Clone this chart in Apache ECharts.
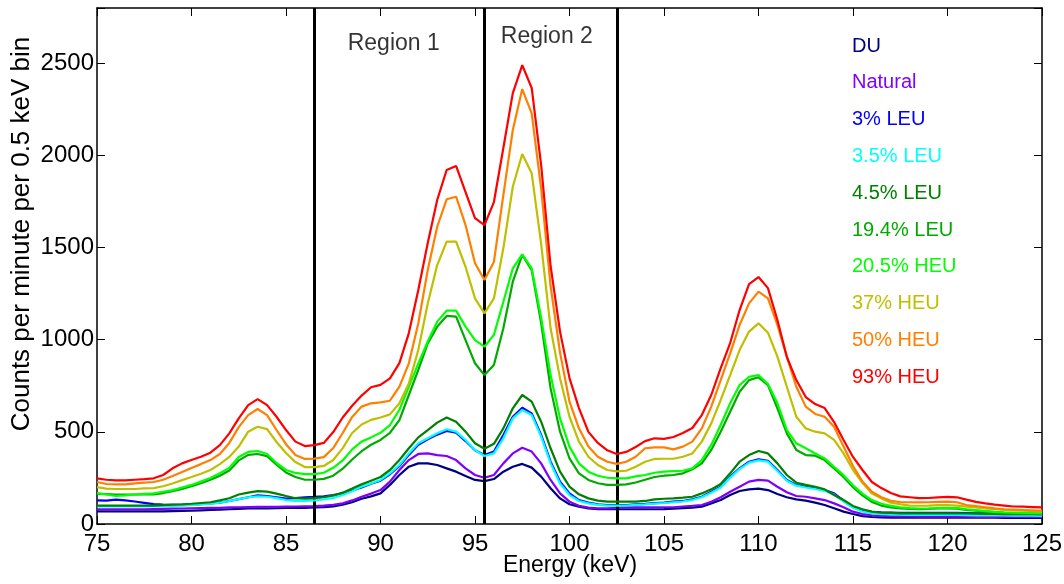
<!DOCTYPE html>
<html><head><meta charset="utf-8">
<script src="https://cdn.jsdelivr.net/npm/echarts@6/dist/echarts.min.js"></script>
<style>html,body{margin:0;padding:0;background:#fff}#c{width:1064px;height:584px}</style>
</head><body><div id="c"></div>
<script>
// Energy bins (keV), 0.5 keV wide
const energy = Array.from({length: 101}, (_, i) => 75 + 0.5 * i);

const seriesNames = ['DU','Natural','3% LEU','3.5% LEU','4.5% LEU','19.4% LEU','20.5% HEU','37% HEU','50% HEU','93% HEU'];
const seriesColors = ['#000080','#8000FF','#0000FF','#00FFFF','#008000','#00AA00','#00FF00','#BFBF00','#FF8000','#FF0000'];

const du = [68,68,68,68,68,68,68,69,70,71,
 72,74,76,78,80,82,84,85,85,86,
 87,88,88,90,92,96,105,118,137,150,
 166,212,266,311,329,329,320,302,284,260,
 239,233,244,284,311,326,306,257,194,139,
 107,94,85,81,80,80,80,80,80,80,
 81,83,86,89,94,112,130,157,179,188,
 192,184,163,145,134,127,116,103,85,67,
 54,43,38,36,35,35,35,35,35,35,
 34,34,34,34,34,34,33,33,33,33,
 33];
const natural = [80,80,80,80,80,80,81,82,83,84,
 85,86,87,88,90,91,92,93,93,93,
 94,95,96,97,100,104,112,128,148,165,
 184,230,293,347,380,383,374,369,347,302,
 266,251,266,329,383,414,393,329,239,166,
 121,99,89,85,85,88,90,91,91,91,
 91,91,95,98,103,121,145,175,202,230,
 239,235,202,172,152,148,139,130,112,91,
 67,54,47,44,42,41,41,40,40,40,
 40,40,40,39,39,39,39,38,38,38,
 38];
const leu3 = [128,127,132,128,122,115,108,105,104,104,
 105,108,112,116,125,135,145,155,152,145,
 138,140,145,147,150,157,167,182,198,218,
 235,270,315,375,430,460,485,505,495,450,
 400,374,393,483,582,631,600,483,338,230,
 166,130,116,107,103,103,103,106,109,113,
 116,121,125,134,148,175,202,257,302,338,
 351,343,293,239,212,202,194,184,166,127,
 91,74,66,63,62,61,61,61,61,61,
 60,60,59,58,58,57,57,56,56,55,
 55];
const leu35 = [95,95,95,95,95,95,95,97,98,100,
 102,106,110,116,125,135,145,150,148,140,
 130,125,125,128,133,142,157,178,203,220,
 239,275,320,383,438,465,492,514,501,456,
 402,369,383,465,573,619,591,474,329,220,
 157,125,112,104,100,100,100,104,107,111,
 114,118,122,130,145,170,198,252,298,333,
 345,338,288,235,208,198,190,180,160,122,
 88,68,58,54,52,51,50,50,50,50,
 50,49,48,47,47,46,46,45,45,45,
 44];
const leu45 = [100,100,100,100,100,100,100,102,105,107,
 110,114,118,128,140,160,170,178,176,165,
 152,140,138,140,145,155,170,192,215,235,
 255,293,347,411,470,510,550,578,555,501,
 438,408,435,519,628,700,664,555,411,284,
 203,161,139,127,121,121,121,121,125,134,
 137,139,143,148,166,188,217,275,338,374,
 396,383,329,266,224,212,202,188,157,130,
 98,80,67,61,60,58,58,58,58,58,
 58,58,57,56,55,55,54,54,53,53,
 52];
const leu194 = [163,162,160,160,160,160,160,168,178,190,
 205,222,240,262,290,345,375,380,368,322,
 280,255,240,240,245,262,300,350,395,430,
 456,495,564,700,836,980,1071,1129,1125,998,
 872,808,863,1062,1315,1460,1378,1090,736,501,
 356,275,239,221,212,212,215,225,240,255,
 262,266,275,297,329,402,501,609,718,781,
 796,754,628,492,402,374,371,347,302,255,
 200,155,120,100,90,84,82,81,82,84,
 85,83,77,72,68,64,61,59,58,57,
 56];
const heu205 = [168,160,152,155,160,163,166,175,184,198,
 212,230,250,275,304,364,391,396,380,331,
 293,277,271,271,278,305,345,405,447,470,
 495,537,620,745,870,990,1098,1158,1158,1071,
 998,962,1026,1206,1387,1463,1387,1120,808,573,
 420,329,284,262,251,248,248,258,266,278,
 284,287,289,302,347,429,537,655,754,799,
 808,760,655,510,438,411,383,356,310,265,
 210,165,130,110,98,90,86,84,84,86,
 88,86,80,75,70,66,63,61,60,59,
 58];
const heu37 = [200,192,190,190,190,193,195,205,220,238,
 255,273,293,325,364,420,501,528,515,445,
 385,336,309,309,315,347,412,494,540,565,
 578,595,655,763,944,1197,1405,1532,1532,1396,
 1224,1143,1224,1496,1830,2008,1903,1520,1062,790,
 582,447,365,320,293,286,289,311,338,353,
 354,354,365,383,447,546,673,808,944,1044,
 1089,1038,908,745,582,519,501,492,456,383,
 293,224,166,139,116,107,100,99,100,102,
 103,100,94,90,85,80,76,74,72,70,
 67];
const heu50 = [228,217,215,215,220,225,228,240,260,282,
 304,325,347,380,440,526,591,624,591,510,
 433,374,353,355,363,412,494,581,637,655,
 660,669,745,872,1089,1378,1613,1762,1776,1622,
 1415,1324,1422,1785,2138,2360,2228,1820,1290,930,
 664,519,420,365,338,326,338,365,411,416,
 416,405,420,447,519,637,781,926,1080,1197,
 1261,1224,1080,908,745,637,597,582,528,420,
 315,230,175,145,126,119,118,117,118,120,
 121,118,103,97,91,85,80,78,76,74,
 72];
const heu93 = [248,240,237,237,240,243,248,266,302,329,
 347,365,387,428,492,573,645,678,645,582,
 510,447,423,428,440,499,578,642,697,742,
 755,790,873,1036,1270,1525,1758,1921,1943,1801,
 1660,1622,1747,2040,2338,2490,2366,1948,1400,1044,
 792,629,500,440,400,380,391,418,450,465,
 462,472,494,521,591,700,846,982,1161,1302,
 1340,1280,1107,906,781,689,651,629,553,456,
 364,293,228,195,168,150,145,140,141,145,
 147,145,132,120,112,105,100,95,94,92,
 90];

const seriesValues = [du, natural, leu3, leu35, leu45, leu194, heu205, heu37, heu50, heu93];

const regionBoundaries = [86.5, 95.5, 102.5];
const regionLabels = ['Region 1', 'Region 2'];
const regionLabelPos = [[90.7, 2605], [98.8, 2642]];

const xTicks = [75, 80, 85, 90, 95, 100, 105, 110, 115, 120, 125];
const yTickStep = 500;
const xTitle = 'Energy (keV)';
const yTitle = 'Counts per minute per 0.5 keV bin';

const FONT = "'Liberation Sans', Arial, Helvetica, sans-serif";

const chart = echarts.init(document.getElementById('c'), null, {renderer: 'canvas'});

const axisLineStyle = {color: '#000', width: 1.5};
const mkX = (pos, showLabel) => ({
  type: 'value', min: xTicks[0], max: xTicks[xTicks.length - 1], interval: 5, position: pos,
  axisLine: {show: true, onZero: false, lineStyle: axisLineStyle},
  axisTick: {show: true, inside: true, length: 8, lineStyle: {color: '#000', width: 1}},
  axisLabel: {show: showLabel, fontSize: 24, color: '#000', margin: 8, fontFamily: FONT},
  splitLine: {show: false}
});
const mkY = (pos, showLabel) => ({
  type: 'value', min: 0, max: 2800, interval: yTickStep, position: pos,
  axisLine: {show: true, onZero: false, lineStyle: axisLineStyle},
  axisTick: {show: true, inside: true, length: 8, lineStyle: {color: '#000', width: 1}},
  axisLabel: {show: showLabel, fontSize: 24, color: '#000', margin: 3, fontFamily: FONT,
    formatter: v => (v % yTickStep === 0 ? String(v) : '')},
  splitLine: {show: false}
});

const lineSeries = seriesNames.map((name, k) => ({
  name: name, type: 'line', xAxisIndex: 0, yAxisIndex: 0,
  showSymbol: false, symbol: 'none', smooth: false,
  lineStyle: {color: seriesColors[k], width: 2.2},
  itemStyle: {color: seriesColors[k]},
  emphasis: {disabled: true},
  z: 2 + k,
  data: energy.map((e, i) => [e, seriesValues[k][i]])
}));

const option = {
  animation: false,
  backgroundColor: '#fff',
  textStyle: {fontFamily: FONT},
  grid: {left: 97, right: 22, top: 8, bottom: 60, show: false, containLabel: false, outerBoundsMode: 'none'},
  xAxis: [mkX('bottom', true), mkX('top', false)],
  yAxis: [mkY('left', true), mkY('right', false)],
  graphic: [{
    type: 'text', x: 22, y: 234, rotation: Math.PI / 2, silent: true,
    style: {text: yTitle, fontSize: 26, fontFamily: FONT, fill: '#000',
      align: 'center', verticalAlign: 'middle'}
  }, {
    type: 'text', x: 570, y: 566, silent: true,
    style: {text: xTitle, fontSize: 23, fontFamily: FONT, fill: '#000',
      align: 'center', verticalAlign: 'middle'}
  }],
  legend: {
    orient: 'vertical', left: 842, top: 31,
    itemWidth: 0, itemHeight: 20, itemGap: 16.8,
    icon: 'rect', selectedMode: false,
    textStyle: {fontSize: 20, fontFamily: FONT},
    data: seriesNames.map((n, k) => ({name: n, textStyle: {color: seriesColors[k]}}))
  },
  series: lineSeries.concat([
    {
      name: 'regions', type: 'line', data: [], xAxisIndex: 0, yAxisIndex: 0,
      markLine: {
        symbol: 'none', silent: true, animation: false,
        label: {show: false},
        lineStyle: {color: '#000', width: 3, type: 'solid'},
        data: regionBoundaries.map(v => ({xAxis: v}))
      },
      z: 20
    },
    {
      name: 'regionLabels', type: 'scatter', symbolSize: 0, silent: true,
      label: {show: true, position: 'inside', formatter: p => p.name,
        fontSize: 23, color: '#000', fontFamily: FONT},
      data: regionLabels.map((t, i) => ({name: t, value: regionLabelPos[i]})),
      z: 21
    }
  ])
};
chart.setOption(option);
</script>
</body></html>
